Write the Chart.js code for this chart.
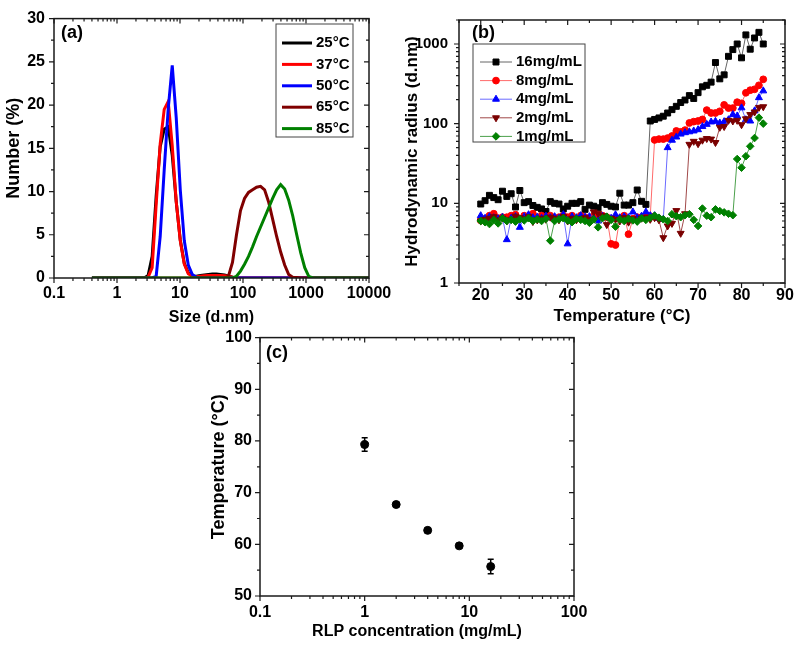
<!DOCTYPE html>
<html>
<head>
<meta charset="utf-8">
<script src="https://cdn.jsdelivr.net/npm/chart.js"></script>
<style>
  body { margin: 0; background: #fff; width: 800px; height: 647px; position: relative; overflow: hidden; }
  canvas { position: absolute; }
</style>
</head>
<body>
<canvas id="chartA" width="400" height="330" style="left:0;top:0;width:400px;height:330px"></canvas>
<canvas id="chartB" width="400" height="330" style="left:400px;top:0;width:400px;height:330px"></canvas>
<canvas id="chartC" width="420" height="327" style="left:180px;top:320px;width:420px;height:327px"></canvas>
<script>
// (a) size distribution, number % per size bin
const sizesA = [
  0.4, 0.4632, 0.5365, 0.6213, 0.7195, 0.8332, 0.9649, 1.117, 1.294, 1.499,
  1.736, 2.01, 2.328, 2.696, 3.122, 3.615, 4.187, 4.849, 5.615, 6.503,
  7.531, 8.721, 10.1, 11.7, 13.54, 15.69, 18.17, 21.04, 24.36, 28.21,
  32.67, 37.84, 43.82, 50.75, 58.77, 68.06, 78.82, 91.28, 105.7, 122.4,
  141.8, 164.2, 190.1, 220.2, 255, 295.3, 342, 396.1, 458.7, 531.2,
  615.1, 712.4, 825, 955.4, 1106, 1281, 1484, 1718, 1990, 2305,
  2669, 3091, 3580, 4145, 4801, 5560, 6439, 7456, 8635, 10000
];
const n25 = [
  0, 0, 0, 0, 0, 0, 0, 0, 0, 0,
  0, 0, 0, 0, 0.3, 2.5, 9.5, 15.2, 17.2, 17.5,
  14.2, 8.8, 4.4, 1.7, 0.6, 0.2, 0.2, 0.3, 0.35, 0.4,
  0.45, 0.45, 0.4, 0.35, 0.25, 0.1, 0, 0, 0, 0,
  0, 0, 0, 0, 0, 0, 0, 0, 0, 0,
  0, 0, 0, 0, 0, 0, 0, 0, 0, 0,
  0, 0, 0, 0, 0, 0, 0, 0, 0, 0
];
const n37 = [
  0, 0, 0, 0, 0, 0, 0, 0, 0, 0,
  0, 0, 0, 0, 0.1, 1.2, 8.5, 15.5, 19.5, 20.4,
  15.3, 8.8, 4.3, 1.6, 0.5, 0.2, 0.15, 0.2, 0.25, 0.3,
  0.3, 0.3, 0.3, 0.25, 0.2, 0.1, 0, 0, 0, 0,
  0, 0, 0, 0, 0, 0, 0, 0, 0, 0,
  0, 0, 0, 0, 0, 0, 0, 0, 0, 0,
  0, 0, 0, 0, 0, 0, 0, 0, 0, 0
];
const n50 = [
  0, 0, 0, 0, 0, 0, 0, 0, 0, 0,
  0, 0, 0, 0, 0, 0, 0.2, 4.8, 12.5, 19.6,
  24.6, 18.5, 10.2, 4.3, 1.5, 0.4, 0.1, 0, 0, 0,
  0, 0, 0, 0, 0, 0, 0, 0, 0, 0,
  0, 0, 0, 0, 0, 0, 0, 0, 0, 0,
  0, 0, 0, 0, 0, 0, 0, 0, 0, 0,
  0, 0, 0, 0, 0, 0, 0, 0, 0, 0
];
const n65 = [
  0, 0, 0, 0, 0, 0, 0, 0, 0, 0,
  0, 0, 0, 0, 0, 0, 0, 0, 0, 0,
  0, 0, 0, 0, 0, 0, 0, 0, 0, 0,
  0, 0, 0, 0, 0.2, 1.8, 5.0, 7.8, 9.2, 9.9,
  10.2, 10.5, 10.6, 10.2, 8.8, 6.8, 4.8, 3.0, 1.5, 0.4,
  0.1, 0.05, 0, 0, 0, 0, 0, 0, 0, 0,
  0, 0, 0, 0, 0, 0, 0, 0, 0, 0
];
const n85 = [
  0, 0, 0, 0, 0, 0, 0, 0, 0, 0,
  0, 0, 0, 0, 0, 0, 0, 0, 0, 0,
  0, 0, 0, 0, 0, 0, 0, 0, 0, 0,
  0, 0, 0, 0, 0, 0, 0.2, 0.8, 1.6, 2.5,
  3.6, 4.8, 5.9, 7.0, 8.1, 9.2, 10.2, 10.8, 10.3, 9.0,
  7.2, 5.0, 2.9, 1.2, 0.2, 0, 0, 0, 0, 0,
  0, 0, 0, 0, 0, 0, 0, 0, 0, 0
];
const xTicksA = [0.1, 1, 10, 100, 1000, 10000];
const yTicksA = [0, 5, 10, 15, 20, 25, 30];

// (b) hydrodynamic radius vs temperature
const tempB = [
  20, 21, 22, 23, 24, 25, 26, 27, 28, 29,
  30, 31, 32, 33, 34, 35, 36, 37, 38, 39,
  40, 41, 42, 43, 44, 45, 46, 47, 48, 49,
  50, 51, 52, 53, 54, 55, 56, 57, 58, 59,
  60, 61, 62, 63, 64, 65, 66, 67, 68, 69,
  70, 71, 72, 73, 74, 75, 76, 77, 78, 79,
  80, 81, 82, 83, 84, 85
];
const r16 = [
  9.8, 10.8, 12.6, 11.8, 11.1, 14.2, 12.2, 13.2, 9.0, 14.5,
  10.2, 10.5, 9.4, 8.9, 8.5, 7.9, 10.5, 10.0, 9.8, 8.5,
  9.2, 10.0, 10.0, 10.5, 8.4, 9.5, 9.2, 8.8, 10.2, 9.7,
  9.2, 9.0, 13.4, 9.5, 9.5, 10.2, 14.7, 10.6, 9.7, 108,
  113, 118, 124, 136, 150, 165, 184, 198, 225, 207,
  245, 290, 303, 332, 585, 365, 410, 700, 850, 1000,
  670, 1300, 860, 1190, 1400, 1000
];
const r8 = [
  6.1, 6.4, 7.0, 7.4, 6.5, 6.7, 6.7, 7.0, 7.2, 6.4,
  7.0, 6.7, 7.4, 6.4, 7.0, 6.7, 7.0, 6.4, 6.7, 7.0,
  6.7, 7.0, 6.4, 7.0, 6.7, 6.4, 7.0, 6.7, 7.0, 6.7,
  3.1, 3.0, 6.5, 7.0, 4.1, 6.4, 6.7, 6.7, 7.0, 6.9,
  62.5, 64, 64, 66, 70, 81, 79, 83, 102, 106,
  108, 113, 148, 136, 136, 143, 172, 157, 157, 186,
  180, 244, 263, 270, 303, 360
];
const r4 = [
  7.0, 6.5, 6.8, 6.6, 6.4, 6.7, 3.5, 6.5, 6.8, 5.0,
  6.8, 7.2, 6.6, 6.7, 6.5, 6.9, 6.6, 6.8, 6.5, 7.2,
  3.1, 6.8, 6.6, 7.0, 6.7, 6.8, 6.5, 6.0, 6.9, 6.7,
  6.5, 7.2, 6.6, 6.8, 6.6, 7.8, 6.6, 6.9, 7.8, 7.0,
  7.0, 6.5, 6.3, 50, 62, 68, 74, 77, 79, 81,
  84, 92, 98, 105, 107, 102, 106, 112, 130, 125,
  158, 112, 108, 145, 212, 258
];
const r2 = [
  6.0, 6.3, 6.5, 6.8, 6.2, 6.5, 6.0, 6.3, 6.9, 6.6,
  6.4, 6.8, 5.9, 6.2, 6.5, 6.3, 6.7, 6.5, 6.2, 6.8,
  6.0, 6.5, 6.2, 6.4, 6.6, 6.3, 7.8, 7.5, 7.0, 5.4,
  6.5, 6.3, 6.0, 6.6, 5.8, 6.4, 6.1, 6.5, 6.7, 6.3,
  6.6, 6.2, 3.7, 5.2, 5.6, 8.1, 4.2, 7.4, 55, 60,
  56, 62, 65, 64, 58, 90, 92, 110, 108, 110,
  97, 115, 130, 140, 160, 163
];
const r1 = [
  6.0, 5.8, 5.5, 6.2, 5.6, 6.5, 6.0, 6.2, 5.9, 6.3,
  6.1, 6.5, 6.0, 6.3, 6.0, 6.4, 3.4, 6.0, 6.3, 6.5,
  6.1, 5.8, 6.4, 6.2, 6.0, 5.7, 6.3, 5.0, 6.5, 6.8,
  6.2, 5.1, 6.3, 6.0, 6.4, 6.1, 5.9, 6.5, 6.2, 6.6,
  7.0, 6.6, 6.3, 6.0, 7.3, 6.9, 6.7, 7.1, 7.3, 6.2,
  5.2, 8.6, 7.0, 6.7, 8.4, 8.0, 7.7, 7.4, 7.1, 36,
  28, 39, 52, 66, 119, 100
];
const xTicksB = [20, 30, 40, 50, 60, 70, 80, 90];
const yTicksB = [1, 10, 100, 1000];

// (c) transition temperature vs concentration
const concC = [1, 2, 4, 8, 16];
const tempC = [79.3, 67.7, 62.7, 59.7, 55.7];
const errC = [1.3, 0.4, 0.4, 0.4, 1.4];
const xTicksC = [0.1, 1, 10, 100];
const yTicksC = [50, 60, 70, 80, 90, 100];

const FONT = "'Liberation Sans', Arial, Helvetica, sans-serif";
Chart.defaults.font.family = FONT;
Chart.defaults.font.size = 16;
Chart.defaults.font.weight = 'bold';
Chart.defaults.color = '#000';

function toPoints(xs, ys) {
  return xs.map((x, i) => ({ x: x, y: ys[i] }));
}

function minorValues(scale) {
  const major = scale.ticks.map(t => t.value);
  const out = [];
  if (scale.type === 'logarithmic') {
    major.forEach(m => {
      for (let k = 2; k < 10; k++) {
        if (m * k <= scale.max * 1.0001) out.push(m * k);
      }
    });
  } else {
    const step = major[1] - major[0];
    for (let v = major[0] - step / 2; v <= scale.max; v += step) {
      if (v >= scale.min) out.push(v);
    }
  }
  return out;
}

// box frame with ticks on all four sides + panel letter
const framePlugin = {
  id: 'frame',
  afterDraw(chart, args, o) {
    if (!o || !o.letter) return;
    const ctx = chart.ctx;
    const a = chart.chartArea;
    ctx.save();
    ctx.strokeStyle = '#1a1a1a';
    ctx.lineWidth = 1.2;
    ctx.beginPath();
    const tick = (s, v, len) => {
      const p = s.getPixelForValue(v);
      if (s.isHorizontal()) {
        ctx.moveTo(p, a.bottom); ctx.lineTo(p, a.bottom + len);
        ctx.moveTo(p, a.top); ctx.lineTo(p, a.top + len);
      } else {
        ctx.moveTo(a.left, p); ctx.lineTo(a.left - len, p);
        ctx.moveTo(a.right, p); ctx.lineTo(a.right - len, p);
      }
    };
    [chart.scales.x, chart.scales.y].forEach(s => {
      s.ticks.forEach(t => tick(s, t.value, 5));
      minorValues(s).forEach(v => tick(s, v, 3));
    });
    ctx.stroke();
    ctx.lineWidth = 1.5;
    ctx.strokeRect(a.left, a.top, a.right - a.left, a.bottom - a.top);
    ctx.fillStyle = '#000';
    ctx.font = 'bold 18px ' + FONT;
    ctx.textBaseline = 'middle';
    ctx.fillText(o.letter, o.lx, o.ly);
    ctx.restore();
  }
};

// legend in a box, inside the plot
const boxLegend = {
  id: 'boxLegend',
  afterDraw(chart, args, o) {
    if (!o || !o.w) return;
    const ctx = chart.ctx;
    ctx.save();
    ctx.fillStyle = '#fff';
    ctx.fillRect(o.x, o.y, o.w, o.h);
    ctx.strokeStyle = '#444';
    ctx.lineWidth = 1;
    ctx.strokeRect(o.x, o.y, o.w, o.h);
    ctx.font = 'bold 15px ' + FONT;
    ctx.textBaseline = 'middle';
    chart.data.datasets.forEach((ds, i) => {
      const yy = o.firstY + i * o.rowH;
      ctx.strokeStyle = ds.borderColor;
      ctx.lineWidth = ds.borderWidth;
      ctx.beginPath();
      ctx.moveTo(o.x0, yy);
      ctx.lineTo(o.x1, yy);
      ctx.stroke();
      if (ds.pointRadius > 0) {
        ctx.fillStyle = ds.pointBackgroundColor;
        ctx.strokeStyle = ds.pointBorderColor;
        ctx.lineWidth = 1;
        const opts = { pointStyle: ds.pointStyle, radius: ds.pointRadius, rotation: ds.pointRotation || 0, borderWidth: 1 };
        if (Chart.helpers && Chart.helpers.drawPoint) {
          Chart.helpers.drawPoint(ctx, opts, (o.x0 + o.x1) / 2, yy);
        } else {
          ctx.beginPath();
          ctx.arc((o.x0 + o.x1) / 2, yy, ds.pointRadius, 0, Math.PI * 2);
          ctx.fill();
        }
      }
      ctx.fillStyle = '#000';
      ctx.fillText(ds.label, o.tx, yy);
    });
    ctx.restore();
  }
};

const errorBars = {
  id: 'errorBars',
  afterDatasetsDraw(chart, args, o) {
    if (!o || !o.err) return;
    const ctx = chart.ctx;
    const x = chart.scales.x, y = chart.scales.y;
    ctx.save();
    ctx.strokeStyle = '#000';
    ctx.lineWidth = 1.5;
    ctx.beginPath();
    concC.forEach((c, i) => {
      const px = x.getPixelForValue(c);
      const top = y.getPixelForValue(tempC[i] + o.err[i]);
      const bot = y.getPixelForValue(tempC[i] - o.err[i]);
      ctx.moveTo(px, top); ctx.lineTo(px, bot);
      ctx.moveTo(px - 3, top); ctx.lineTo(px + 3, top);
      ctx.moveTo(px - 3, bot); ctx.lineTo(px + 3, bot);
    });
    ctx.stroke();
    ctx.restore();
  }
};

Chart.register(framePlugin, boxLegend, errorBars);

function axis(type, min, max, ticks, title, o) {
  return {
    type: type,
    min: min,
    max: max,
    grid: { display: false, drawTicks: false },
    border: { display: false },
    afterBuildTicks: s => { s.ticks = ticks.map(v => ({ value: v })); },
    afterFit: s => { if (s.isHorizontal()) s.height = o.size; else s.width = o.size; },
    ticks: { autoSkip: false, maxRotation: 0, padding: o.pad, font: { size: o.tickSize || 16, weight: 'bold' }, callback: v => String(v) },
    title: { display: true, text: title, padding: o.titlePad, font: { size: o.titleSize, weight: 'bold' } }
  };
}

function baseOptions(pad, scales, frame, legend, err) {
  return {
    responsive: false,
    animation: false,
    events: [],
    layout: { padding: pad },
    scales: scales,
    plugins: {
      legend: { display: false },
      tooltip: { enabled: false },
      frame: frame,
      boxLegend: legend,
      errorBars: err
    }
  };
}

// ---- chart (a)
const colorsA = ['#000000', '#ff0000', '#0000ff', '#800000', '#008000'];
const labelsA = ['25°C', '37°C', '50°C', '65°C', '85°C'];
const seriesA = [n25, n37, n50, n65, n85];

new Chart(document.getElementById('chartA'), {
  type: 'line',
  data: {
    datasets: seriesA.map((s, i) => ({
      label: labelsA[i],
      data: toPoints(sizesA, s),
      borderColor: colorsA[i],
      borderWidth: 3,
      pointRadius: 0,
      tension: 0,
      order: 5 - i
    }))
  },
  options: baseOptions(
    { top: 14, right: 31, left: 0, bottom: 0 },
    {
      x: axis('logarithmic', 0.1, 10000, xTicksA, 'Size (d.nm)', { size: 52, pad: 6, titleSize: 16, titlePad: { top: 0, bottom: 3 } }),
      y: axis('linear', 0, 30, yTicksA, 'Number (%)', { size: 54, pad: 9, titleSize: 18, titlePad: { top: 3, bottom: 0 } })
    },
    { letter: '(a)', lx: 61, ly: 33 },
    { x: 276, y: 24, w: 77, h: 113, x0: 282, x1: 312, tx: 316, firstY: 43, rowH: 21.4 },
    {}
  )
});

// ---- chart (b)
const labelsB = ['16mg/mL', '8mg/mL', '4mg/mL', '2mg/mL', '1mg/mL'];
const seriesB = [r16, r8, r4, r2, r1];
const markB = ['#000000', '#ff0000', '#0000ff', '#7a0000', '#008000'];
const lineB = ['#666666', '#ff6a6a', '#6a6aff', '#a04848', '#4ca04c'];
const styleB = ['rect', 'circle', 'triangle', 'triangle', 'rectRot'];
const rotB = [0, 0, 0, 180, 0];
const radB = [4.2, 3.4, 4, 4, 3.8];

new Chart(document.getElementById('chartB'), {
  type: 'line',
  data: {
    datasets: seriesB.map((s, i) => ({
      label: labelsB[i],
      data: toPoints(tempB, s),
      borderColor: lineB[i],
      borderWidth: 1,
      pointStyle: styleB[i],
      pointRotation: rotB[i],
      pointRadius: radB[i],
      pointBackgroundColor: markB[i],
      pointBorderColor: markB[i],
      pointBorderWidth: 1,
      tension: 0,
      order: 5 - i
    }))
  },
  options: baseOptions(
    { top: 13, right: 15, left: 0, bottom: 0 },
    {
      x: axis('linear', 15, 90, xTicksB, 'Temperature (°C)', { size: 47, pad: 3, titleSize: 17, titlePad: { top: 0, bottom: 3 } }),
      y: axis('logarithmic', 1, 2000, yTicksB, 'Hydrodynamic radius (d.nm)', { size: 59, pad: 11, tickSize: 15, titleSize: 17, titlePad: { top: 2, bottom: 0 } })
    },
    { letter: '(b)', lx: 72, ly: 33 },
    { x: 73, y: 44, w: 112, h: 98, x0: 80, x1: 112, tx: 116, firstY: 62, rowH: 18.6 },
    {}
  )
});

// ---- chart (c)
new Chart(document.getElementById('chartC'), {
  type: 'line',
  data: {
    datasets: [{
      label: 'LCST',
      data: toPoints(concC, tempC),
      showLine: false,
      borderColor: '#000',
      pointStyle: 'circle',
      pointRadius: 4,
      pointBackgroundColor: '#000',
      pointBorderColor: '#000'
    }]
  },
  options: baseOptions(
    { top: 11, right: 26, left: 0, bottom: 0 },
    {
      x: axis('logarithmic', 0.1, 100, xTicksC, 'RLP concentration (mg/mL)', { size: 51, pad: 7, titleSize: 16, titlePad: { top: 0, bottom: 6 } }),
      y: axis('linear', 50, 100, yTicksC, 'Temperature (°C)', { size: 80, pad: 8, titleSize: 18, titlePad: { top: 28, bottom: 0 } })
    },
    { letter: '(c)', lx: 86, ly: 33 },
    {},
    { err: errC }
  )
});
</script>
</body>
</html>
